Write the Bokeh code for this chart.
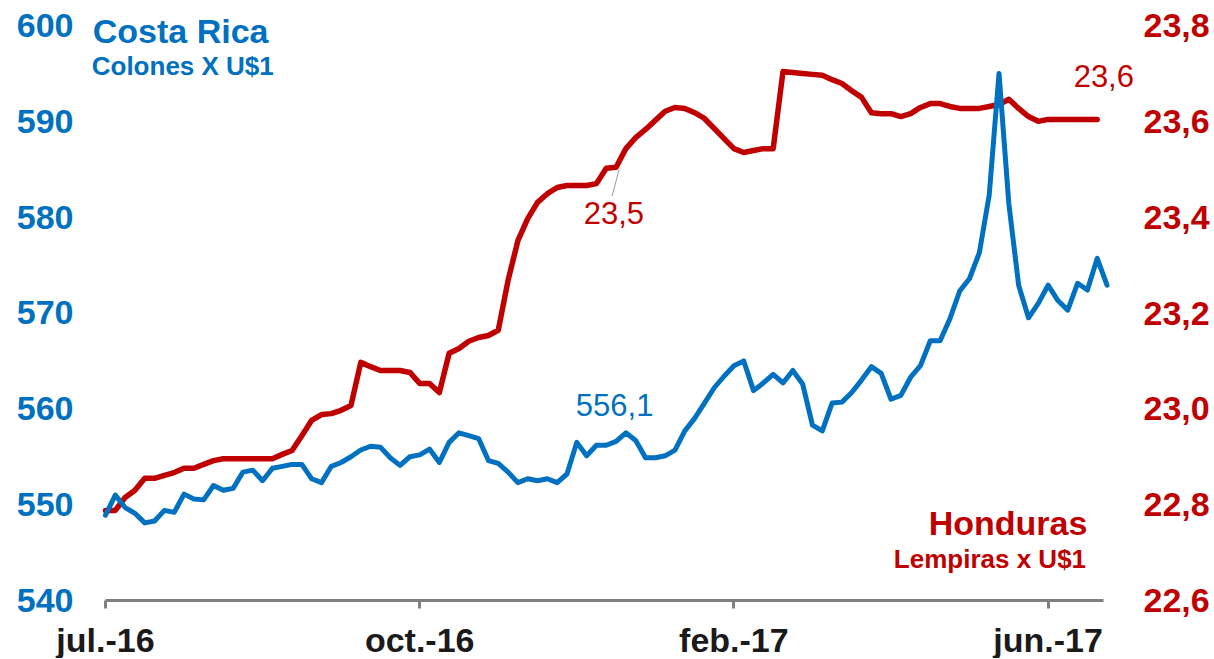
from bokeh.plotting import figure
from bokeh.models import Range1d, LinearAxis, FixedTicker, CustomJSTickFormatter, Label, ColumnDataSource
from bokeh.embed import file_html
from bokeh.resources import INLINE

# ---- data ----
tick_positions = [0, 32, 64, 96]
tick_labels = ["jul.-16", "oct.-16", "feb.-17", "jun.-17"]

costa_rica = [
    548.9, 551.0, 549.7, 549.1, 548.1, 548.3, 549.4, 549.2, 551.1, 550.6,
    550.5, 552.0, 551.5, 551.7, 553.4, 553.6, 552.5, 553.8, 554.0, 554.2,
    554.2, 552.7, 552.3, 554.0, 554.4, 555.0, 555.7, 556.1, 556.0, 554.9,
    554.1, 555.0, 555.2, 555.8, 554.4, 556.5, 557.5, 557.2, 556.9, 554.6,
    554.3, 553.4, 552.3, 552.7, 552.5, 552.7, 552.3, 553.2, 556.5, 555.1,
    556.2, 556.2, 556.6, 557.5, 556.7, 554.9, 554.9, 555.1, 555.7, 557.7,
    559.0, 560.6, 562.2, 563.4, 564.5, 565.0, 561.9, 562.7, 563.6, 562.7,
    564.0, 562.6, 558.3, 557.7, 560.6, 560.7, 561.7, 563.0, 564.4, 563.7,
    561.0, 561.4, 563.3, 564.5, 567.1, 567.1, 569.4, 572.3, 573.6, 576.3,
    582.3, 595.0, 581.4, 572.9, 569.5, 571.0, 572.9, 571.3, 570.3, 573.1,
    572.4, 575.7, 572.9,
]

honduras = [
    22.788, 22.788, 22.815, 22.830, 22.855, 22.855, 22.861, 22.867, 22.876, 22.876,
    22.884, 22.892, 22.896, 22.896, 22.896, 22.896, 22.896, 22.896, 22.905, 22.913,
    22.944, 22.976, 22.988, 22.990, 22.997, 23.007, 23.097, 23.088, 23.080, 23.080,
    23.080, 23.076, 23.053, 23.053, 23.034, 23.116, 23.126, 23.141, 23.149, 23.153,
    23.164, 23.268, 23.351, 23.397, 23.431, 23.449, 23.462, 23.466, 23.466, 23.466,
    23.470, 23.502, 23.504, 23.543, 23.566, 23.583, 23.602, 23.621, 23.629, 23.627,
    23.618, 23.606, 23.585, 23.564, 23.543, 23.535, 23.539, 23.543, 23.543, 23.704,
    23.702, 23.700, 23.698, 23.696, 23.687, 23.679, 23.664, 23.650, 23.618, 23.616,
    23.616, 23.610, 23.616, 23.629, 23.637, 23.637, 23.631, 23.627, 23.627, 23.627,
    23.631, 23.635, 23.646, 23.627, 23.610, 23.600, 23.604, 23.604, 23.604, 23.604,
    23.604, 23.604,
]

BLUE = "#0070C0"
RED = "#C00000"
FONT = "Liberation Sans"

cr_src = ColumnDataSource(dict(x=list(range(len(costa_rica))), y=costa_rica))
hn_src = ColumnDataSource(dict(x=list(range(len(honduras))), y=honduras))

p = figure(frame_width=1085, frame_height=648, output_backend="svg", toolbar_location=None,
           x_range=Range1d(-5.6, 104.9), y_range=Range1d(533.948, 601.565))
p.min_border_left = 50
p.min_border_right = 79
p.min_border_top = 10
p.min_border_bottom = 0
p.outline_line_color = None
p.grid.visible = False
p.background_fill_color = "white"
p.border_fill_color = "white"

p.extra_y_ranges = {"hn": Range1d(22.4790, 23.8313)}

# left axis
ya = p.yaxis[0]
ya.ticker = FixedTicker(ticks=[540, 550, 560, 570, 580, 590, 600])
ya.axis_line_color = None
ya.major_tick_line_color = None
ya.minor_tick_line_color = None
ya.major_label_standoff = -29
ya.major_label_text_color = BLUE
ya.major_label_text_font = FONT
ya.major_label_text_font_style = "bold"
ya.major_label_text_font_size = "34px"

# right axis
ra = LinearAxis(y_range_name="hn")
ra.ticker = FixedTicker(ticks=[22.6, 22.8, 23.0, 23.2, 23.4, 23.6, 23.8])
ra.formatter = CustomJSTickFormatter(code="return tick.toFixed(1).replace('.', ',');")
ra.axis_line_color = None
ra.major_tick_line_color = None
ra.minor_tick_line_color = None
ra.major_label_standoff = 2
ra.major_label_text_color = RED
ra.major_label_text_font = FONT
ra.major_label_text_font_style = "bold"
ra.major_label_text_font_size = "34px"
p.add_layout(ra, "right")

# bottom axis, pinned at 540 on the left scale
xa = p.xaxis[0]
xa.fixed_location = 540
xa.bounds = (0, 101.6)
xa.ticker = FixedTicker(ticks=tick_positions)
xa.major_label_overrides = {t: l for t, l in zip(tick_positions, tick_labels)}
xa.axis_line_color = "#808080"
xa.axis_line_width = 3
xa.major_tick_line_color = "#808080"
xa.major_tick_line_width = 3
xa.major_tick_out = 8
xa.major_tick_in = 0
xa.minor_tick_line_color = None
xa.major_label_standoff = 12
xa.major_label_text_color = "#1a1a1a"
xa.major_label_text_font = FONT
xa.major_label_text_font_style = "bold"
xa.major_label_text_font_size = "34px"

# lines
p.line("x", "y", source=hn_src, y_range_name="hn", line_color=RED, line_width=5.5,
       line_join="round", line_cap="round")
p.line("x", "y", source=cr_src, line_color=BLUE, line_width=5,
       line_join="round", line_cap="round")

# leader line for 23,5 label
p.segment(x0=[52.3], y0=[honduras[52] - 0.005], x1=[51.6], y1=[honduras[52] - 0.06],
          y_range_name="hn", line_color="#9a9a9a", line_width=1)

def lab(x, y, text, color, size, bold=True, align="left"):
    p.add_layout(Label(x=x, y=y, text=text, text_color=color, text_font=FONT,
                       text_font_size=size, text_font_style="bold" if bold else "normal",
                       text_align=align, text_baseline="alphabetic"))

lab(-1.3, 599.4, "Costa Rica", BLUE, "34px")
lab(-1.4, 595.8, "Colones X U$1", BLUE, "26px")
lab(47.9, 560.4, "556,1", BLUE, "31px", bold=False)
lab(48.7, 580.4, "23,5", RED, "31px", bold=False)
lab(98.6, 594.7, "23,6", RED, "31px", bold=False)
lab(100.0, 548.1, "Honduras", RED, "34px", align="right")
lab(100.6, 544.3, "Lempiras  x U$1", RED, "26px", align="right")

open("out.html", "w").write(file_html(p, INLINE))
